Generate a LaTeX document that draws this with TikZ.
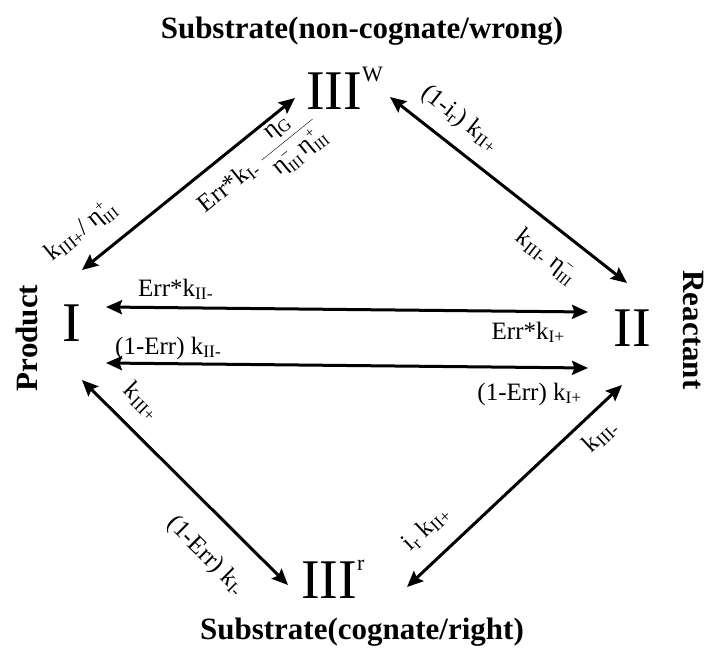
\documentclass[tikz,border=0pt]{standalone}
\usepackage{fontspec}
\setmainfont{Liberation Serif}
\usetikzlibrary{arrows.meta}

\newcommand{\etaud}[2]{η$^{\hbox{\fontsize{15}{15}\selectfont #1}}_{\hbox{\fontsize{15}{15}\selectfont #2}}$}
\newcommand{\sups}[1]{\raisebox{28pt}{\fontsize{22}{22}\selectfont #1}}

\tikzstyle{state} = [inner sep=0pt, font=\fontsize{56}{60}\selectfont]
\tikzstyle{title} = [inner sep=0pt, font=\bfseries\fontsize{31}{33}\selectfont]
\tikzstyle{lbl} = [inner sep=0pt, font=\fontsize{25}{27}\selectfont]
\tikzstyle{arrow} = [line width=3pt, <->, >={Stealth[length=16pt,width=14pt,inset=2.5pt]}]

\begin{document}
\begin{tikzpicture}[x=1pt, y=1pt]
\useasboundingbox (0,0) rectangle (706,649);

% States
\node (nI) [state] at (72,326) {I};
\node (nII) [state] at (632,321) {II};
\node (nIIIw) [state, anchor=base west] at (306,539) {III\sups{W}};
\node (nIIIr) [state, anchor=base west] at (301,51) {III\sups{r}};

% Titles
\node (tWrong) [title] at (362,618) {Substrate(non-cognate/wrong)};
\node (tRight) [title] at (362,17) {Substrate(cognate/right)};
\node (tProduct) [title, rotate=90] at (27,311) {Product};
\node (tReactant) [title, rotate=-90] at (693,319) {Reactant};

% Arrow ends
\coordinate (I1) at (82,379);
\coordinate (I2) at (106,342);
\coordinate (I3) at (106,286);
\coordinate (I4) at (82,269);
\coordinate (W1) at (295,551);
\coordinate (W2) at (390,552);
\coordinate (II1) at (627,366);
\coordinate (II2) at (588,337);
\coordinate (II3) at (588,281);
\coordinate (II4) at (622,264);
\coordinate (R1) at (288,64);
\coordinate (R2) at (407,62);

% Arrows
\draw [arrow] (I1) -- (W1);
\draw [arrow] (W2) -- (II1);
\draw [arrow] (I2) -- (II2);
\draw [arrow] (I3) -- (II3);
\draw [arrow] (I4) -- (R1);
\draw [arrow] (R2) -- (II4);

% Rates
\node (r1) [lbl, rotate=38.9] at (81,418) {k\textsubscript{III+}/ \etaud{+}{III}};
\node (r2) [lbl, rotate=38.9] at (260,483) {Err*k\textsubscript{I-} $\displaystyle{\hbox{η\textsubscript{G}}\over\hbox{\,\etaud{−}{III}\,\etaud{+}{III}}}$};
\node (r3) [lbl, rotate=-38.1] at (460,530) {(1-i\textsubscript{r}) k\textsubscript{II+}};
\node (r4) [lbl, rotate=-38.1] at (546,392) {k\textsubscript{III-} \etaud{−}{III}};
\node (r5) [lbl, anchor=base west] at (138,353) {Err*k\textsubscript{II-}};
\node (r6) [lbl, anchor=base east] at (565,310) {Err*k\textsubscript{I+}};
\node (r7) [lbl, anchor=base west] at (115,295) {(1-Err) k\textsubscript{II-}};
\node (r8) [lbl, anchor=base east] at (582,249) {(1-Err) k\textsubscript{I+}};
\node (r9) [lbl, rotate=-44.9] at (142,248) {k\textsubscript{III+}};
\node (r10) [lbl, rotate=-44.9] at (206,93) {(1-Err) k\textsubscript{I-}};
\node (r11) [lbl, rotate=43.2] at (426,121) {i\textsubscript{r} k\textsubscript{II+}};
\node (r12) [lbl, rotate=43.2] at (600,213) {k\textsubscript{III-}};

\end{tikzpicture}
\end{document}
